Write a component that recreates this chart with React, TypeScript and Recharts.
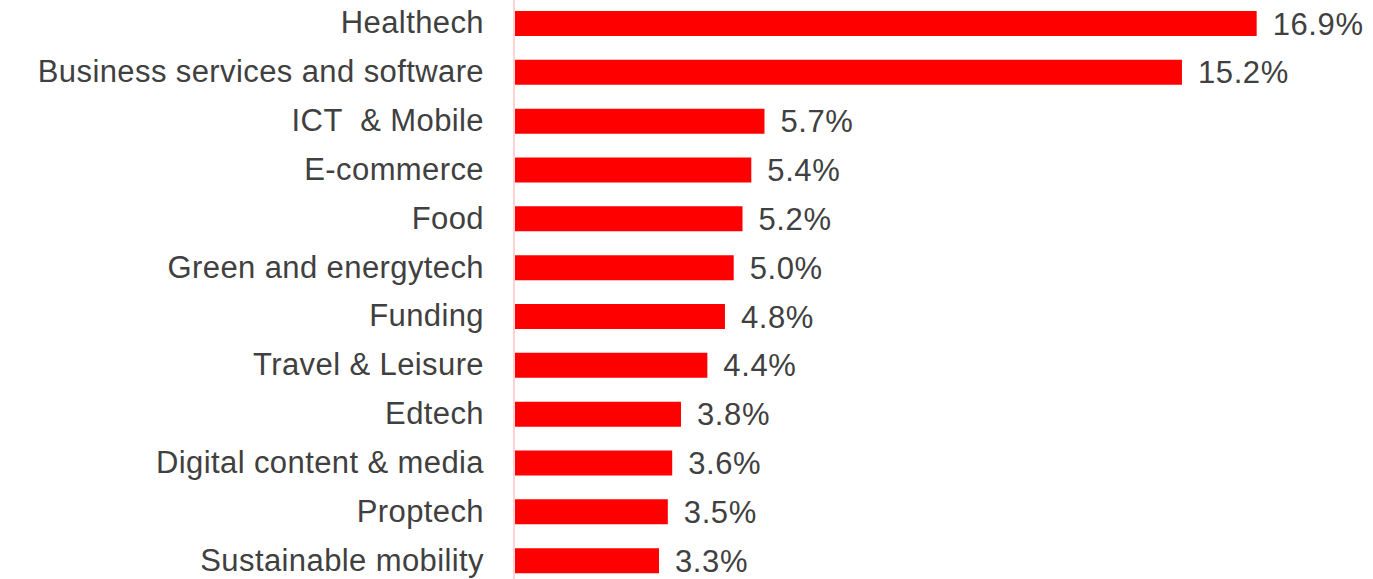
import React from 'react';
import { BarChart, Bar, XAxis, YAxis, LabelList } from 'recharts';

// sector names, top to bottom
const sectors = [
  'Healthech',
  'Business services and software',
  'ICT  & Mobile',
  'E-commerce',
  'Food',
  'Green and energytech',
  'Funding',
  'Travel & Leisure',
  'Edtech',
  'Digital content & media',
  'Proptech',
  'Sustainable mobility',
];

// share of startups, percent
const shares = [16.9, 15.2, 5.7, 5.4, 5.2, 5.0, 4.8, 4.4, 3.8, 3.6, 3.5, 3.3];

const chartData = sectors.map((name, i) => ({ name, value: shares[i] }));

const FONT = '"Liberation Sans", Arial, Helvetica, sans-serif';
const TEXT_COLOR = '#404040';

// left-side category labels, keep double spaces as they are
const SectorTick = (props) => {
  const { x, y, payload } = props;
  return (
    <text
      x={x}
      y={y}
      dy={10}
      textAnchor="end"
      fill={TEXT_COLOR}
      fontSize={31}
      fontFamily={FONT}
      letterSpacing={0.4}
      style={{ whiteSpace: 'pre' }}
    >
      {payload.value}
    </text>
  );
};

const App = () => {
  return (
    <div style={{ position: 'absolute', left: 0, top: -1, background: '#fff' }}>
      <BarChart
        layout="vertical"
        width={1373}
        height={586}
        data={chartData}
        margin={{ top: 0, right: 68, bottom: 0, left: 0 }}
        barCategoryGap={0}
      >
        <XAxis type="number" domain={[0, 18]} hide />
        <YAxis
          type="category"
          dataKey="name"
          width={514}
          tickSize={0}
          tickMargin={30}
          axisLine={{ stroke: '#FFD3D3', strokeWidth: 2 }}
          tick={<SectorTick />}
          interval={0}
        />
        <Bar dataKey="value" fill="#FF0000" barSize={25} isAnimationActive={false}>
          <LabelList
            dataKey="value"
            position="right"
            offset={16}
            formatter={(v) => `${Number(v).toFixed(1)}%`}
            style={{ fill: TEXT_COLOR, fontSize: 31, fontFamily: FONT, letterSpacing: 0.6 }}
          />
        </Bar>
      </BarChart>
    </div>
  );
};

export default App;
